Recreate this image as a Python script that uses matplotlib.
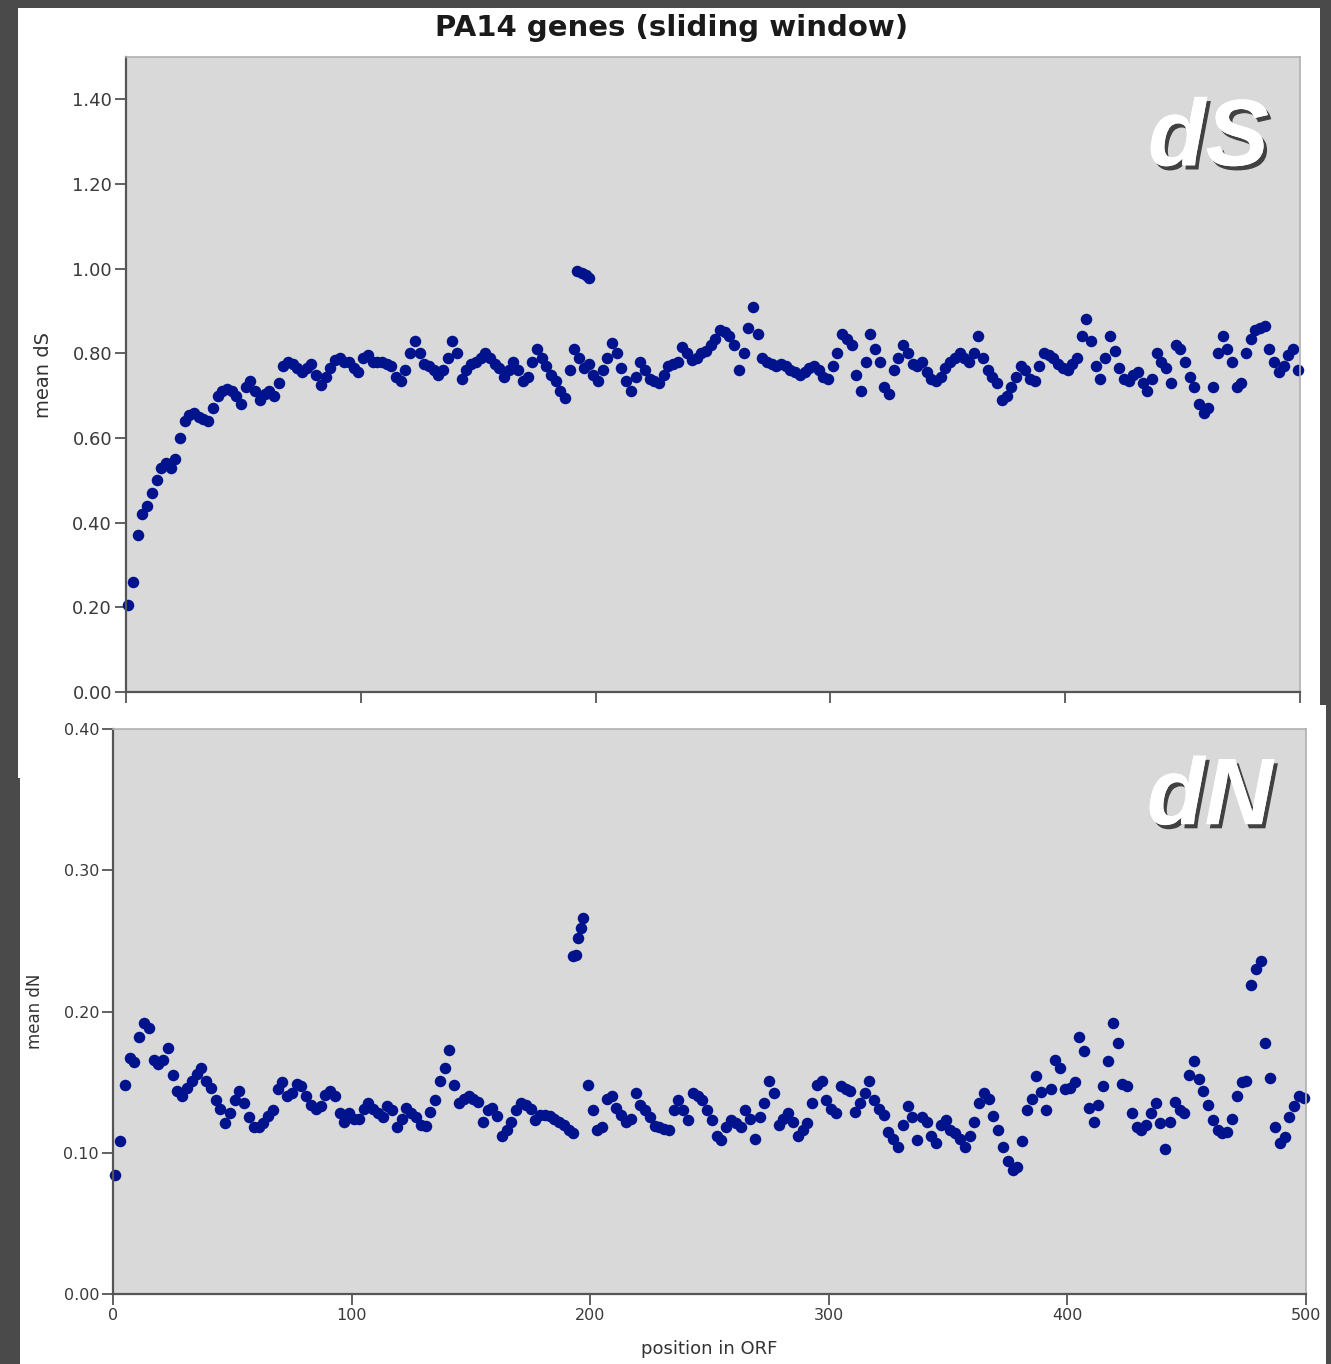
import numpy as np
import matplotlib
matplotlib.use("Agg")
import matplotlib.pyplot as plt
import matplotlib.patheffects as pe
from matplotlib.patches import Rectangle

# ---------------- data ----------------
title = "PA14 genes (sliding window)"
positions = np.arange(1, 500, 2)

mean_dS = [
    0.205, 0.26, 0.37, 0.42, 0.44, 0.47, 0.50, 0.53, 0.54, 0.53,
    0.55, 0.60, 0.64, 0.655, 0.66, 0.65, 0.645, 0.64, 0.67, 0.70,
    0.71, 0.715, 0.71, 0.70, 0.68, 0.72, 0.735, 0.71, 0.69, 0.705,
    0.71, 0.70, 0.73, 0.77, 0.78, 0.775, 0.765, 0.755, 0.765, 0.775,
    0.75, 0.725, 0.745, 0.765, 0.785, 0.79, 0.78, 0.78, 0.765, 0.755,
    0.79, 0.795, 0.78, 0.78, 0.78, 0.775, 0.77, 0.745, 0.735, 0.76,
    0.80, 0.83, 0.80, 0.775, 0.77, 0.76, 0.75, 0.76, 0.79, 0.83,
    0.80, 0.74, 0.76, 0.775, 0.78, 0.79, 0.80, 0.79, 0.775, 0.765,
    0.745, 0.76, 0.78, 0.76, 0.735, 0.745, 0.78, 0.81, 0.79, 0.77,
    0.75, 0.735, 0.71, 0.695, 0.76, 0.81, 0.79, 0.765, 0.775, 0.75,
    0.735, 0.76, 0.79, 0.825, 0.80, 0.765, 0.735, 0.71, 0.745, 0.78,
    0.76, 0.74, 0.735, 0.73, 0.75, 0.77, 0.775, 0.78, 0.815, 0.80,
    0.785, 0.79, 0.80, 0.805, 0.82, 0.835, 0.855, 0.85, 0.84, 0.82,
    0.76, 0.80, 0.86, 0.91, 0.845, 0.79, 0.78, 0.775, 0.77, 0.775,
    0.77, 0.76, 0.755, 0.75, 0.755, 0.765, 0.77, 0.76, 0.745, 0.74,
    0.77, 0.80, 0.845, 0.835, 0.82, 0.75, 0.71, 0.78, 0.845, 0.81,
    0.78, 0.72, 0.705, 0.76, 0.79, 0.82, 0.80, 0.775, 0.77, 0.78,
    0.755, 0.74, 0.735, 0.745, 0.765, 0.78, 0.79, 0.80, 0.79, 0.78,
    0.80, 0.84, 0.79, 0.76, 0.745, 0.73, 0.69, 0.70, 0.72, 0.745,
    0.77, 0.76, 0.74, 0.735, 0.77, 0.80, 0.795, 0.79, 0.775, 0.765,
    0.76, 0.775, 0.79, 0.84, 0.88, 0.83, 0.77, 0.74, 0.79, 0.84,
    0.805, 0.765, 0.74, 0.735, 0.75, 0.755, 0.73, 0.71, 0.74, 0.80,
    0.78, 0.765, 0.73, 0.82, 0.81, 0.78, 0.745, 0.72, 0.68, 0.66,
    0.67, 0.72, 0.80, 0.84, 0.81, 0.78, 0.72, 0.73, 0.80, 0.835,
    0.855, 0.86, 0.865, 0.81, 0.78, 0.755, 0.77, 0.795, 0.81, 0.76,
]
dS_outlier_pos = [192, 194, 196, 197]
dS_outlier_val = [0.995, 0.99, 0.985, 0.978]

mean_dN = [
    0.084, 0.108, 0.148, 0.167, 0.164, 0.182, 0.192, 0.188, 0.166, 0.163,
    0.166, 0.174, 0.155, 0.144, 0.140, 0.146, 0.151, 0.156, 0.160, 0.151,
    0.146, 0.137, 0.131, 0.121, 0.128, 0.137, 0.144, 0.135, 0.125, 0.118,
    0.118, 0.121, 0.126, 0.130, 0.145, 0.150, 0.140, 0.142, 0.149, 0.147,
    0.140, 0.134, 0.131, 0.133, 0.141, 0.144, 0.140, 0.128, 0.122, 0.128,
    0.124, 0.124, 0.131, 0.135, 0.131, 0.128, 0.125, 0.133, 0.130, 0.118,
    0.124, 0.132, 0.128, 0.125, 0.120, 0.119, 0.129, 0.137, 0.151, 0.160,
    0.173, 0.148, 0.135, 0.138, 0.140, 0.138, 0.136, 0.122, 0.130, 0.132,
    0.126, 0.112, 0.116, 0.122, 0.130, 0.135, 0.134, 0.131, 0.123, 0.127,
    0.127, 0.126, 0.124, 0.122, 0.120, 0.116, 0.114, np.nan, np.nan, 0.148,
    0.130, 0.116, 0.118, 0.138, 0.140, 0.132, 0.127, 0.122, 0.124, 0.142,
    0.134, 0.130, 0.125, 0.119, 0.118, 0.117, 0.116, 0.130, 0.137, 0.130,
    0.123, 0.142, 0.140, 0.137, 0.130, 0.123, 0.112, 0.109, 0.118, 0.123,
    0.121, 0.118, 0.130, 0.124, 0.110, 0.125, 0.135, 0.151, 0.142, 0.120,
    0.124, 0.128, 0.122, 0.112, 0.116, 0.121, 0.135, 0.148, 0.151, 0.137,
    0.131, 0.128, 0.147, 0.145, 0.144, 0.129, 0.135, 0.142, 0.151, 0.137,
    0.131, 0.127, 0.115, 0.110, 0.104, 0.120, 0.133, 0.125, 0.109, 0.125,
    0.122, 0.112, 0.107, 0.120, 0.123, 0.116, 0.114, 0.110, 0.104, 0.112,
    0.122, 0.135, 0.142, 0.138, 0.126, 0.116, 0.104, 0.094, 0.088, 0.090,
    0.108, 0.130, 0.138, 0.154, 0.143, 0.130, 0.145, 0.166, 0.160, 0.145,
    0.146, 0.150, 0.182, 0.172, 0.132, 0.122, 0.134, 0.147, 0.165, 0.192,
    0.178, 0.149, 0.147, 0.128, 0.118, 0.116, 0.120, 0.128, 0.135, 0.121,
    0.103, 0.122, 0.136, 0.130, 0.128, 0.155, 0.165, 0.152, 0.144, 0.134,
    0.123, 0.116, 0.114, 0.115, 0.124, 0.140, 0.150, 0.151, 0.219, 0.230,
    0.236, 0.178, 0.153, 0.118, 0.107, 0.111, 0.125, 0.133, 0.140, 0.139,
]
dN_outlier_pos = [193, 194, 195, 196, 197]
dN_outlier_val = [0.239, 0.240, 0.252, 0.259, 0.266]

x_ticks = [0, 100, 200, 300, 400, 500]
dS_ticks = [0.0, 0.2, 0.4, 0.6, 0.8, 1.0, 1.2, 1.4]
dN_ticks = [0.0, 0.1, 0.2, 0.3, 0.4]

# ---------------- style ----------------
W, H = 1331, 1364
fig = plt.figure(figsize=(W / 100, H / 100), dpi=100)
fig.patch.set_facecolor("#4a4a4a")

def px_rect(x0, y0, x1, y1):
    return Rectangle((x0 / W, 1 - y1 / H), (x1 - x0) / W, (y1 - y0) / H,
                     transform=fig.transFigure, facecolor="white",
                     edgecolor="none", zorder=0)

fig.patches.append(px_rect(18, 8, 1320, 778))
fig.patches.append(px_rect(20, 705, 1326, 1364))

dot_color = "#00138c"
bg = "#d9d9d9"
tick_col = "#3a3a3a"
MS = 8.3

def style_axes(ax, fs):
    ax.set_facecolor(bg)
    for s in ["left", "bottom"]:
        ax.spines[s].set_color("#555555")
        ax.spines[s].set_linewidth(1.6)
    for s in ["top", "right"]:
        ax.spines[s].set_color("#b0b0b0")
        ax.spines[s].set_linewidth(1.2)
    ax.tick_params(direction="out", length=8, width=1.3, color="#555555",
                   labelcolor=tick_col, labelsize=fs, pad=2)
    ax.tick_params(top=False, right=False)

# top axes
ax1 = fig.add_axes([126 / W, 1 - 692 / H, (1300 - 126) / W, (692 - 57) / H], zorder=2)
style_axes(ax1, 13)
ax1.plot(positions, mean_dS, "o", color=dot_color, ms=MS, mec=dot_color, mew=0, clip_on=False)
ax1.plot(dS_outlier_pos, dS_outlier_val, "o", color=dot_color, ms=MS, mec=dot_color, mew=0)
ax1.set_xlim(0, 500)
ax1.set_ylim(0, 1.5)
ax1.set_xticks(x_ticks)
ax1.set_xticklabels([])
ax1.set_yticks(dS_ticks)
ax1.set_yticklabels([f"{v:.2f}" for v in dS_ticks])
ax1.set_ylabel("mean dS", fontsize=14, color="#333333", labelpad=14)
fig.text(672 / W, 1 - 28 / H, title, ha="center", va="center",
         fontsize=21, fontweight="bold", color="#1a1a1a", zorder=3)

shadow = [pe.withSimplePatchShadow(offset=(2.5, -3), shadow_rgbFace="black", alpha=0.7),
          pe.Normal()]
ax1.text(0.922, 0.868, "dS", transform=ax1.transAxes, ha="center", va="center",
         fontsize=68, fontweight="bold", fontstyle="italic", color="white",
         family="Liberation Sans", path_effects=shadow)

# bottom axes
ax2 = fig.add_axes([113 / W, 1 - 1294 / H, (1306 - 113) / W, (1294 - 729) / H], zorder=3)
style_axes(ax2, 11.5)
ax2.plot(positions, mean_dN, "o", color=dot_color, ms=MS, mec=dot_color, mew=0, clip_on=False)
ax2.plot(dN_outlier_pos, dN_outlier_val, "o", color=dot_color, ms=MS, mec=dot_color, mew=0)
ax2.set_xlim(0, 500)
ax2.set_ylim(0, 0.40)
ax2.set_xticks(x_ticks)
ax2.set_xticklabels([str(v) for v in x_ticks])
ax2.set_yticks(dN_ticks)
ax2.set_yticklabels([f"{v:.2f}" for v in dN_ticks])
ax2.set_ylabel("mean dN", fontsize=12, color="#333333", labelpad=14)
ax2.set_xlabel("position in ORF", fontsize=13, color="#333333", labelpad=12)
ax2.text(0.9195, 0.875, "dN", transform=ax2.transAxes, ha="center", va="center",
         fontsize=68, fontweight="bold", fontstyle="italic", color="white",
         family="Liberation Sans", path_effects=shadow)

fig.savefig("out.png", dpi=100, facecolor=fig.get_facecolor())
